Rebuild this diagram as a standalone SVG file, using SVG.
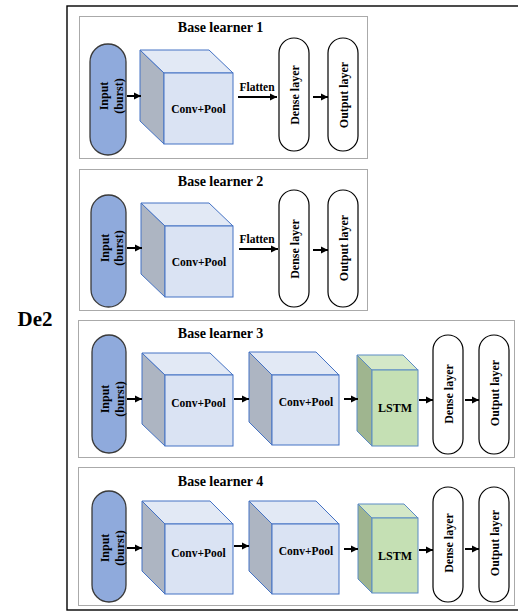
<svg xmlns="http://www.w3.org/2000/svg" width="518" height="615" viewBox="0 0 518 615">
<defs>
<marker id="ah" markerUnits="userSpaceOnUse" markerWidth="8" markerHeight="8" refX="7" refY="4" orient="auto">
<path d="M0,0.5 L7,4 L0,7.5 Z" fill="#000"/>
</marker>
<style>
.t{font-family:"Liberation Serif","Times New Roman",serif;font-weight:bold;fill:#000}
.title{font-size:14px;text-anchor:middle}
.lbl{font-size:12px;text-anchor:middle}
.cp{font-size:11.5px;text-anchor:middle}
.frame{fill:none;stroke:#000;stroke-width:1.4}
.dot{fill:none;stroke:#555;stroke-width:1;stroke-dasharray:1 1}
.inp{fill:#8FAADC;stroke:#3a3a3a;stroke-width:1.3}
.pill{fill:#fff;stroke:#000;stroke-width:1.2}
.cf{fill:#DAE3F3;stroke:#4472C4;stroke-width:1}
.ct{fill:#E2E9F5;stroke:#4472C4;stroke-width:1}
.cl{fill:#ADB5C2;stroke:#4472C4;stroke-width:1}
.lf{fill:#C5E0B4;stroke:#5B8BC4;stroke-width:1}
.lt{fill:#D4E8C8;stroke:#5B8BC4;stroke-width:1}
.ll{fill:#9FB58F;stroke:#5B8BC4;stroke-width:1}
.arr{stroke:#000;stroke-width:2;fill:none;marker-end:url(#ah)}
</style>
</defs>
<rect width="518" height="615" fill="#fff"/>
<rect class="frame" x="67" y="6" width="460" height="604"/>
<text class="t" x="35" y="326" font-size="21" text-anchor="middle">De2</text>

<g id="learner1">
<rect class="dot" x="79.5" y="16.5" width="288" height="142"/>
<text class="t title" x="220.5" y="32">Base learner 1</text>
<g id="l1-input"><rect class="inp" x="90" y="44" width="36" height="111" rx="18"/>
<g transform="translate(108,96) rotate(-90)"><text class="t lbl" x="0" y="0">Input</text><text class="t lbl" x="0" y="14.5">(burst)</text></g></g>
<g id="l1-conv"><polygon class="cl" points="140,50 164,73 164,144 140,121"/><polygon class="ct" points="140,50 209,50 233,73 164,73"/><rect class="cf" x="164" y="73" width="69" height="71"/>
<text class="t cp" x="198.5" y="113">Conv+Pool</text></g>
<g id="l1-dense"><rect class="pill" x="279" y="38" width="30" height="113" rx="15"/>
<text class="t lbl" transform="translate(298.5,95) rotate(-90)" x="0" y="0">Dense layer</text></g>
<g id="l1-output"><rect class="pill" x="328" y="38" width="30" height="113" rx="15"/>
<text class="t lbl" transform="translate(347.5,95) rotate(-90)" x="0" y="0">Output layer</text></g>
<text class="t cp" x="257" y="91">Flatten</text>
</g>

<g id="learner2">
<rect class="dot" x="79.5" y="169.5" width="288" height="141"/>
<text class="t title" x="220.5" y="186">Base learner 2</text>
<g id="l2-input"><rect class="inp" x="91" y="195" width="35" height="112" rx="17.5"/>
<g transform="translate(108.5,248) rotate(-90)"><text class="t lbl" x="0" y="0">Input</text><text class="t lbl" x="0" y="14.5">(burst)</text></g></g>
<g id="l2-conv"><polygon class="cl" points="141,203 165,226 165,297 141,274"/><polygon class="ct" points="141,203 209,203 233,226 165,226"/><rect class="cf" x="165" y="226" width="68" height="71"/>
<text class="t cp" x="199" y="266">Conv+Pool</text></g>
<g id="l2-dense"><rect class="pill" x="279" y="190" width="30" height="117" rx="15"/>
<text class="t lbl" transform="translate(298.5,249) rotate(-90)" x="0" y="0">Dense layer</text></g>
<g id="l2-output"><rect class="pill" x="328" y="190" width="30" height="117" rx="15"/>
<text class="t lbl" transform="translate(347.5,248) rotate(-90)" x="0" y="0">Output layer</text></g>
<text class="t cp" x="257" y="243">Flatten</text>
</g>

<g id="learner3">
<rect class="dot" x="78.5" y="320.5" width="436" height="137"/>
<text class="t title" x="220.5" y="338">Base learner 3</text>
<g id="l3-input"><rect class="inp" x="92" y="335" width="34" height="118" rx="17"/>
<g transform="translate(109,399) rotate(-90)"><text class="t lbl" x="0" y="0">Input</text><text class="t lbl" x="0" y="14.5">(burst)</text></g></g>
<g id="l3-conv1"><polygon class="cl" points="142,353 165,375 165,446 142,424"/><polygon class="ct" points="142,353 210,353 233,375 165,375"/><rect class="cf" x="165" y="375" width="68" height="71"/>
<text class="t cp" x="198.5" y="407">Conv+Pool</text></g>
<g id="l3-conv2"><polygon class="cl" points="249,352 272,375 272,445 249,422"/><polygon class="ct" points="249,352 316,352 339,375 272,375"/><rect class="cf" x="272" y="375" width="67" height="70"/>
<text class="t cp" x="306" y="406">Conv+Pool</text></g>
<g id="l3-lstm"><polygon class="ll" points="357,355 372,370 372,446 357,431"/><polygon class="lt" points="357,355 403,355 418,370 372,370"/><rect class="lf" x="372" y="370" width="46" height="76"/>
<text class="t lbl" x="395" y="412">LSTM</text></g>
<g id="l3-dense"><rect class="pill" x="433" y="335" width="30" height="119" rx="15"/>
<text class="t lbl" transform="translate(452.5,394) rotate(-90)" x="0" y="0">Dense layer</text></g>
<g id="l3-output"><rect class="pill" x="479" y="335" width="30" height="119" rx="15"/>
<text class="t lbl" transform="translate(498.5,393) rotate(-90)" x="0" y="0">Output layer</text></g>
</g>

<g id="learner4">
<rect class="dot" x="78.5" y="467.5" width="436" height="138"/>
<text class="t title" x="220.5" y="486">Base learner 4</text>
<g id="l4-input"><rect class="inp" x="92" y="491" width="34" height="111" rx="17"/>
<g transform="translate(109,548) rotate(-90)"><text class="t lbl" x="0" y="0">Input</text><text class="t lbl" x="0" y="14.5">(burst)</text></g></g>
<g id="l4-conv1"><polygon class="cl" points="142,501 165,524 165,594 142,571"/><polygon class="ct" points="142,501 210,501 233,524 165,524"/><rect class="cf" x="165" y="524" width="68" height="70"/>
<text class="t cp" x="198.5" y="557">Conv+Pool</text></g>
<g id="l4-conv2"><polygon class="cl" points="249,501 272,524 272,594 249,571"/><polygon class="ct" points="249,501 316,501 339,524 272,524"/><rect class="cf" x="272" y="524" width="67" height="70"/>
<text class="t cp" x="306" y="555">Conv+Pool</text></g>
<g id="l4-lstm"><polygon class="ll" points="358,504 372,518 372,593 358,579"/><polygon class="lt" points="358,504 404,504 418,518 372,518"/><rect class="lf" x="372" y="518" width="46" height="75"/>
<text class="t lbl" x="395" y="560">LSTM</text></g>
<g id="l4-dense"><rect class="pill" x="433" y="487" width="30" height="115" rx="15"/>
<text class="t lbl" transform="translate(452.5,543) rotate(-90)" x="0" y="0">Dense layer</text></g>
<g id="l4-output"><rect class="pill" x="479" y="487" width="30" height="115" rx="15"/>
<text class="t lbl" transform="translate(498.5,543) rotate(-90)" x="0" y="0">Output layer</text></g>
</g>

<g id="connectors">
<line class="arr" x1="127" y1="96" x2="141" y2="96"/>
<line class="arr" x1="238" y1="97" x2="277" y2="97"/>
<line class="arr" x1="313" y1="97" x2="328" y2="97"/>
<line class="arr" x1="127" y1="248" x2="142" y2="248"/>
<line class="arr" x1="239" y1="249" x2="278" y2="249"/>
<line class="arr" x1="313" y1="250" x2="328" y2="250"/>
<line class="arr" x1="127" y1="399" x2="142" y2="399"/>
<line class="arr" x1="234" y1="399" x2="249" y2="399"/>
<line class="arr" x1="344" y1="399" x2="358" y2="399"/>
<line class="arr" x1="419" y1="400" x2="433" y2="400"/>
<line class="arr" x1="465" y1="400" x2="479" y2="400"/>
<line class="arr" x1="127" y1="548" x2="142" y2="548"/>
<line class="arr" x1="234" y1="546" x2="249" y2="546"/>
<line class="arr" x1="344" y1="549" x2="358" y2="549"/>
<line class="arr" x1="419" y1="550" x2="433" y2="550"/>
<line class="arr" x1="465" y1="549" x2="479" y2="549"/>
</g>
</svg>
